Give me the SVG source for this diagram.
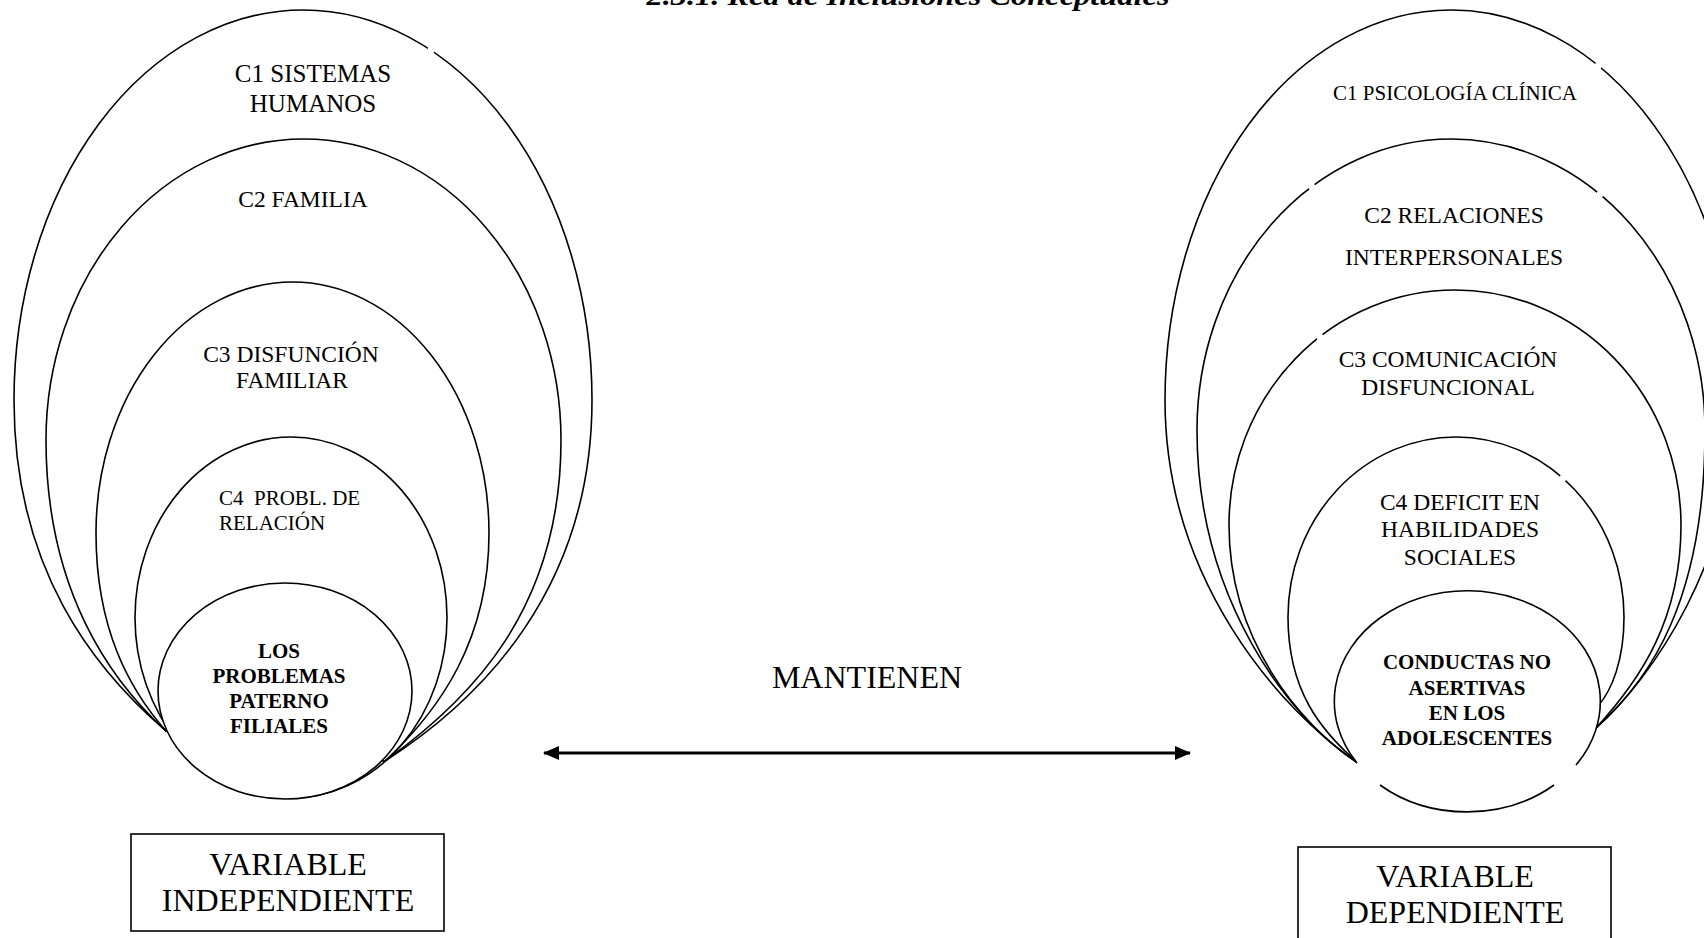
<svg xmlns="http://www.w3.org/2000/svg" width="1704" height="938" viewBox="0 0 1704 938">
<defs>
<style>
.ln{fill:none;stroke:#000;stroke-width:1.6}
.fw{fill:#fff;stroke:none}
.t{font-family:"Liberation Serif","Times New Roman",serif;fill:#000;text-anchor:middle}
.m{font-size:23.5px}
.b{font-size:21px;font-weight:bold}
.v{font-size:32px}
.gap{fill:#fff;stroke:none}
</style>
<marker id="ah" viewBox="0 0 16 14" refX="15" refY="7" markerWidth="16" markerHeight="14" markerUnits="userSpaceOnUse" orient="auto-start-reverse">
<path d="M0,0 L16,7 L0,14 Z" fill="#000"/>
</marker>
</defs>
<rect width="1704" height="938" fill="#fff"/>
<text class="t" x="908" y="5" font-size="28" font-weight="bold" font-style="italic" textLength="523" lengthAdjust="spacingAndGlyphs">2.3.1.  Red de Inclusiones Conceptuales</text>

<g id="left-c1"><path class="ln" d="M14,400 A289,390 0 0 1 592,400 C592,590 480,700 385,761 L166,731 C95,670 14,570 14,400 Z"/><circle class="gap" cx="431" cy="50" r="3.5"/><text class="t" x="313" y="82" font-size="25">C1 SISTEMAS</text><text class="t" x="313" y="112" font-size="25">HUMANOS</text></g>
<g id="left-c2"><path class="ln" d="M46,440 A257.5,301 0 0 1 561,440 C561,610 470,700 385,761 L166,731 C110,680 46,590 46,440 Z"/><text class="t m" x="303" y="207">C2 FAMILIA</text></g>
<g id="left-c3"><path class="ln" d="M96,533 A196.5,251 0 0 1 489,533 C489,640 440,710 385,761 L166,731 C130,690 96,630 96,533 Z"/><text class="t m" x="291" y="362">C3 DISFUNCIÓN</text><text class="t m" x="292" y="388">FAMILIAR</text></g>
<g id="left-c4"><ellipse class="ln" cx="291" cy="617.5" rx="156" ry="180.5"/><text class="t" x="219" y="505" font-size="21" style="text-anchor:start;white-space:pre">C4  PROBL. DE</text><text class="t" x="219" y="530" font-size="21" style="text-anchor:start">RELACIÓN</text></g>
<g id="left-core"><ellipse cx="285" cy="691" rx="127" ry="108" fill="#fff" stroke="#000" stroke-width="1.6"/><text class="t b" x="279" y="658">LOS</text><text class="t b" x="279" y="683">PROBLEMAS</text><text class="t b" x="279" y="708">PATERNO</text><text class="t b" x="279" y="733">FILIALES</text></g>
<g id="left-box"><rect x="131" y="834" width="313" height="97" fill="none" stroke="#000" stroke-width="1.6"/><text class="t v" x="288" y="875">VARIABLE</text><text class="t v" x="288" y="911">INDEPENDIENTE</text></g>

<g id="right-c1"><path class="ln" d="M1165,400 A286,390 0 0 1 1737,400 C1737,560 1650,680 1596,728 L1358,763 C1280,710 1165,580 1165,400 Z"/><circle class="gap" cx="1598" cy="66" r="3.5"/><text class="t" x="1455" y="100" font-size="21">C1 PSICOLOGÍA CLÍNICA</text></g>
<g id="right-c2"><path class="ln" d="M1197,430 A254,291 0 0 1 1705,430 C1705,600 1650,680 1596,728 L1358,763 C1290,720 1197,600 1197,430 Z"/><circle class="gap" cx="1312" cy="187" r="3.5"/><circle class="gap" cx="1600" cy="194" r="3.5"/><text class="t m" x="1454" y="223">C2 RELACIONES</text><text class="t m" x="1454" y="265">INTERPERSONALES</text></g>
<g id="right-c3"><path class="ln" d="M1229,525 A226,235 0 0 1 1681,525 C1681,620 1640,680 1596,728 L1358,763 C1300,725 1229,640 1229,525 Z"/><circle class="gap" cx="1320" cy="337" r="3.5"/><text class="t m" x="1448" y="367">C3 COMUNICACIÓN</text><text class="t m" x="1448" y="395">DISFUNCIONAL</text></g>
<g id="right-c4"><path class="ln" d="M1288,617 A168,180 0 0 1 1624,617 C1624,660 1612,690 1598,706 L1358,763 C1320,730 1288,690 1288,617 Z"/><circle class="gap" cx="1563" cy="478" r="3.5"/><text class="t m" x="1460" y="510">C4 DEFICIT EN</text><text class="t m" x="1460" y="537">HABILIDADES</text><text class="t m" x="1460" y="565">SOCIALES</text></g>
<g id="right-core"><ellipse class="fw" cx="1467" cy="701.5" rx="133" ry="110.5"/><path class="ln" d="M1380,785 A133,110.5 0 0 0 1554,785 M1576,765 A133,110.5 0 1 0 1357,763"/><text class="t b" x="1467" y="669">CONDUCTAS NO</text><text class="t b" x="1467" y="695">ASERTIVAS</text><text class="t b" x="1467" y="720">EN LOS</text><text class="t b" x="1467" y="745">ADOLESCENTES</text></g>
<g id="right-box"><rect x="1298" y="847" width="313" height="100" fill="none" stroke="#000" stroke-width="1.6"/><text class="t v" x="1455" y="887">VARIABLE</text><text class="t v" x="1455" y="923">DEPENDIENTE</text></g>

<g id="connectors"><line x1="544" y1="753" x2="1190" y2="753" stroke="#000" stroke-width="3" marker-start="url(#ah)" marker-end="url(#ah)"/><text class="t v" x="867" y="688">MANTIENEN</text></g>
</svg>
